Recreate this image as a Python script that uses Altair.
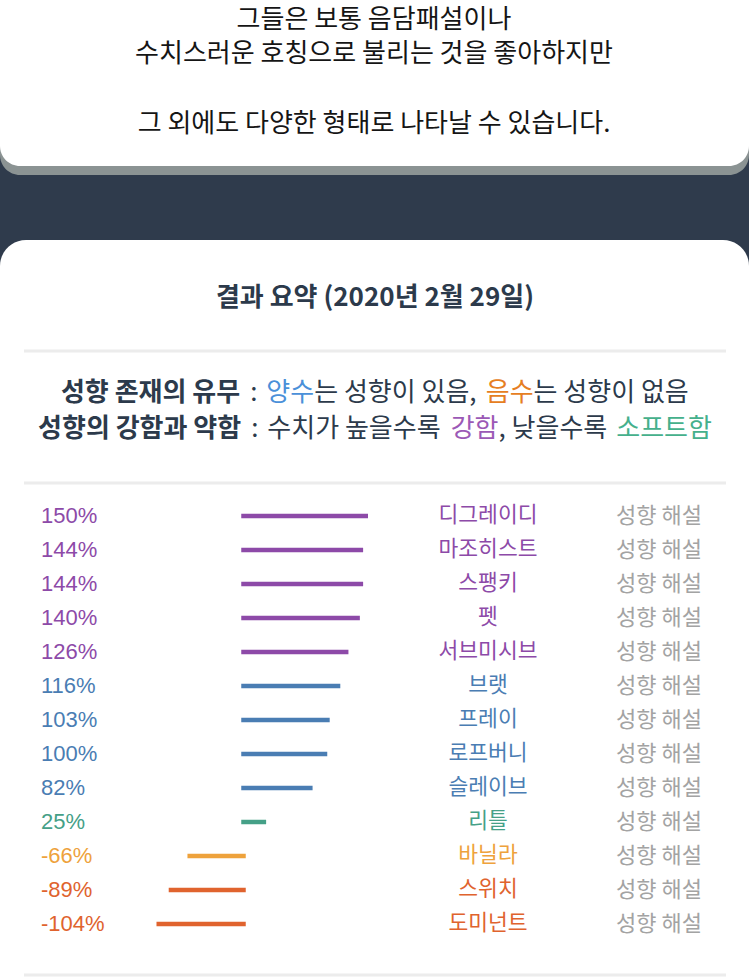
import altair as alt
import pandas as pd

# ---------------- data ----------------
names = ["디그레이디", "마조히스트", "스팽키", "펫", "서브미시브", "브랫", "프레이",
         "로프버니", "슬레이브", "리틀", "바닐라", "스위치", "도미넌트"]
values = [150, 144, 144, 140, 126, 116, 103, 100, 82, 25, -66, -89, -104]
groups = ["strong"] * 5 + ["positive"] * 4 + ["soft"] + ["vanilla"] + ["negative"] * 2
group_domain = ["strong", "positive", "soft", "vanilla", "negative"]
group_colors = ["#8d4aa8", "#4a7db3", "#45a087", "#eea23c", "#e0632e"]

intro_lines = ["그들은 보통 음담패설이나", "수치스러운 호칭으로 불리는 것을 좋아하지만",
               "그 외에도 다양한 형태로 나타날 수 있습니다."]
title_text = "결과 요약 (2020년 2월 29일)"
link_text = "성향 해설"

# legend lines: (text, color, bold)
TXT = "#2c3a4b"
legend1 = [("성향 존재의 유무", TXT, True), (" : ", TXT, False), ("양수", "#4a90d9", False),
           ("는 성향이 있음, ", TXT, False), ("음수", "#e67e22", False),
           ("는 성향이 없음", TXT, False)]
legend2 = [("성향의 강함과 약함", TXT, True), (" : ", TXT, False),
           ("수치가 높을수록 ", TXT, False), ("강함", "#9b59b6", False),
           (", 낮을수록 ", TXT, False), ("소프트함", "#45b08c", False)]

df = pd.DataFrame({
    "name": names,
    "value": values,
    "group": groups,
    "pct": [f"{v}%" for v in values],
    "link": [link_text] * len(names),
})

KR = "Noto Sans CJK KR"
LAT = "Liberation Sans"
DARK = "#2f3b4c"

one = pd.DataFrame({"a": [0]})


def box(x, x2, y, y2, color, radius=0):
    return alt.Chart(one).mark_rect(color=color, cornerRadius=radius).encode(
        x=alt.value(x), x2=alt.value(x2), y=alt.value(y), y2=alt.value(y2))


def label(text, x, y, size, color, weight="normal", align="left", font=KR):
    return alt.Chart(one).mark_text(
        text=text, fontSize=size, color=color, fontWeight=weight,
        align=align, baseline="middle", font=font
    ).encode(x=alt.value(x), y=alt.value(y))


INNER_SPACE = 0.23
EDGE_SPACE = 0.38


def est_width(s, size):
    w = 0.0
    for ch in s:
        if "\uac00" <= ch <= "\ud7a3":
            w += 0.92
        elif ch == " ":
            w += INNER_SPACE
        elif ch in ":,":
            w += 0.24
        else:
            w += 0.55
    return w * size


def seg_parts(t, size):
    core = t.strip(" ")
    lead = len(t) - len(t.lstrip(" "))
    trail = len(t) - len(t.rstrip(" "))
    return core, lead * EDGE_SPACE * size, est_width(core, size), trail * EDGE_SPACE * size


def rich_line(segs, cx, y, size):
    parts = [seg_parts(t, size) for t, _, _ in segs]
    total = sum(a + b + c for _, a, b, c in parts)
    x = cx - total / 2
    out = []
    for (t, col, bold), (core, lead, w, trail) in zip(segs, parts):
        out.append(label(core, x + lead, y, size, col,
                         weight="bold" if bold else "normal"))
        x += lead + w + trail
    return out


layers = []
# background cards
layers.append(box(0, 749, -40, 175, "#8b9393", 20))
layers.append(box(0, 749, -40, 166, "#ffffff", 20))
layers.append(box(0, 749, 240, 1120, "#ffffff", 26))
# separators
for sy in (351, 483, 975):
    layers.append(box(24, 726, sy - 1.5, sy + 1.5, "#ececec"))

# intro text
for t, yy in zip(intro_lines, [20, 54, 124]):
    layers.append(label(t, 374, yy, 26, "#151515", align="center"))

# title
layers.append(label(title_text, 375, 298, 26, TXT, weight="bold", align="center"))

# legend
layers += rich_line(legend1, 375, 393, 26)
layers += rich_line(legend2, 375, 429, 26)

# ---------------- main rows ----------------
ys = alt.Scale(type="point", domain=names, range=[516, 924], padding=0)
xs = alt.Scale(domain=[-150, 150], range=[121.25, 365.75])
cs = alt.Scale(domain=group_domain, range=group_colors)

base = alt.Chart(df)
y_enc = alt.Y("name:N", scale=ys, axis=None, sort=names)
c_enc = alt.Color("group:N", scale=cs, legend=None)

bars = base.mark_rule(strokeWidth=4.5, strokeCap="square").transform_calculate(
    zero="0"
).encode(
    x=alt.X("zero:Q", scale=xs, axis=None),
    x2="value:Q",
    y=y_enc,
    color=c_enc,
)

pct = base.mark_text(align="left", baseline="middle", fontSize=22, font=LAT).encode(
    x=alt.value(41), y=y_enc, text="pct:N", color=c_enc)

nm = base.mark_text(align="center", baseline="middle", fontSize=21.5, font=KR).encode(
    x=alt.value(488), y=y_enc, text="name:N", color=c_enc)

lk = base.mark_text(align="center", baseline="middle", fontSize=22, font=KR,
                    color="#a3a3a3").encode(
    x=alt.value(659), y=y_enc, text="link:N")

layers += [bars, pct, nm, lk]

chart = alt.layer(*layers).properties(
    width=749, height=979, padding=0, autosize="none", background=DARK
).configure_view(stroke=None)

chart.save("out.html", embed_options={"renderer": "svg", "actions": False})
